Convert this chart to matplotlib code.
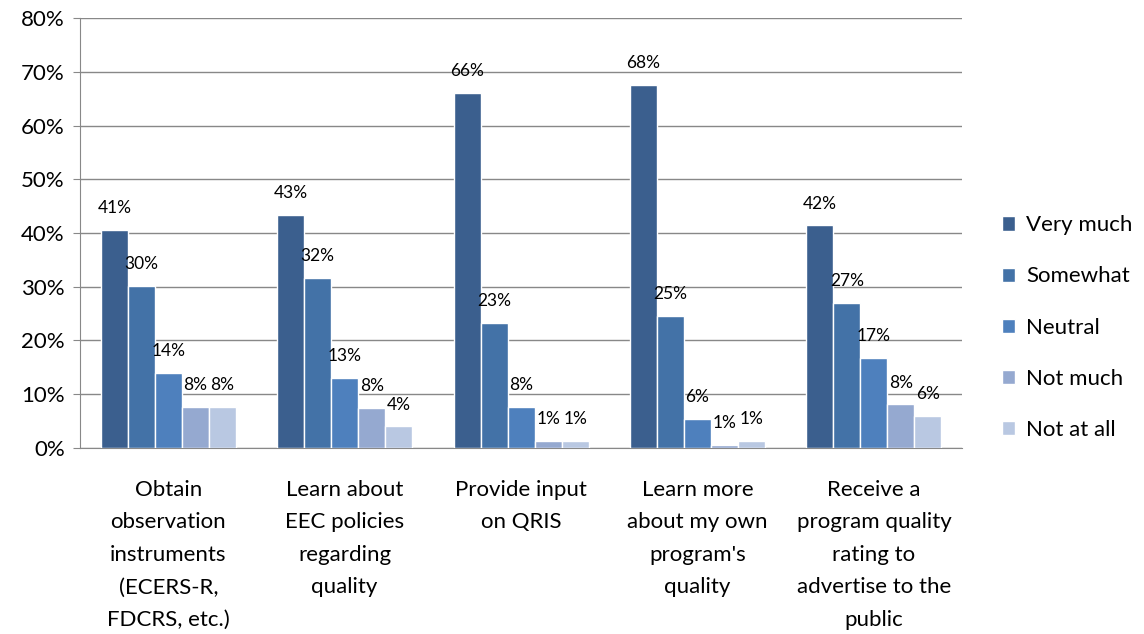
import matplotlib.pyplot as plt
import numpy as np

categories = ["Obtain\nobservation\ninstruments\n(ECERS-R,\nFDCRS, etc.)",
              "Learn about\nEEC policies\nregarding\nquality",
              "Provide input\non QRIS",
              "Learn more\nabout my own\nprogram's\nquality",
              "Receive a\nprogram quality\nrating to\nadvertise to the\npublic"]
series = ["Very much", "Somewhat", "Neutral", "Not much", "Not at all"]
very_much = [40.6, 43.3, 66.1, 67.6, 41.4]
somewhat = [30.1, 31.6, 23.3, 24.5, 27.0]
neutral = [13.9, 13.0, 7.6, 5.4, 16.8]
not_much = [7.6, 7.5, 1.3, 0.6, 8.1]
not_at_all = [7.6, 4.0, 1.3, 1.3, 6.0]
labels = [["41%", "43%", "66%", "68%", "42%"],
          ["30%", "32%", "23%", "25%", "27%"],
          ["14%", "13%", "8%", "6%", "17%"],
          ["8%", "8%", "1%", "1%", "8%"],
          ["8%", "4%", "1%", "1%", "6%"]]
colors = ["#3B5F8E", "#4372A7", "#4E80BD", "#95A9D0", "#B9C8E2"]

plt.rcParams['font.family'] = ['Lato', 'DejaVu Sans']

fig = plt.figure(figsize=(11.44, 6.34), dpi=100)
ax = fig.add_axes([0.07, 0.2934, 0.771, 0.6782])

x = np.arange(len(categories))
w = 0.153
values = [very_much, somewhat, neutral, not_much, not_at_all]
for i, (name, vals) in enumerate(zip(series, values)):
    pos = x + (i - 2) * w
    ax.bar(pos, vals, w, color=colors[i], edgecolor='white', linewidth=1, label=name, zorder=3)
    for p, v, t in zip(pos, vals, labels[i]):
        ax.annotate(t, (p, v), xytext=(0, 10), textcoords='offset points',
                    ha='center', va='bottom', fontsize=12.5, zorder=4)

ax.set_xlim(-0.5, 4.5)
ax.set_ylim(0, 80)
ax.set_yticks(range(0, 81, 10))
ax.set_yticklabels([f"{v}%" for v in range(0, 81, 10)], fontsize=16)
ax.set_xticks(x)
ax.set_xticklabels(categories, fontsize=16, linespacing=1.78)
ax.tick_params(axis='x', length=0, pad=23)
ax.tick_params(axis='y', length=5, color='#888888', pad=6)
ax.yaxis.grid(True, color='#888888', linewidth=1, zorder=0)
ax.set_axisbelow(True)
for s in ['top', 'right']:
    ax.spines[s].set_visible(False)
for s in ['left', 'bottom']:
    ax.spines[s].set_color('#888888')

ax.legend(loc='center left', bbox_to_anchor=(1.035, 0.28), frameon=False,
          fontsize=16, handlelength=0.6, handleheight=0.6, labelspacing=1.4,
          handletextpad=0.5, borderaxespad=0)

fig.savefig('out.png', dpi=100)
